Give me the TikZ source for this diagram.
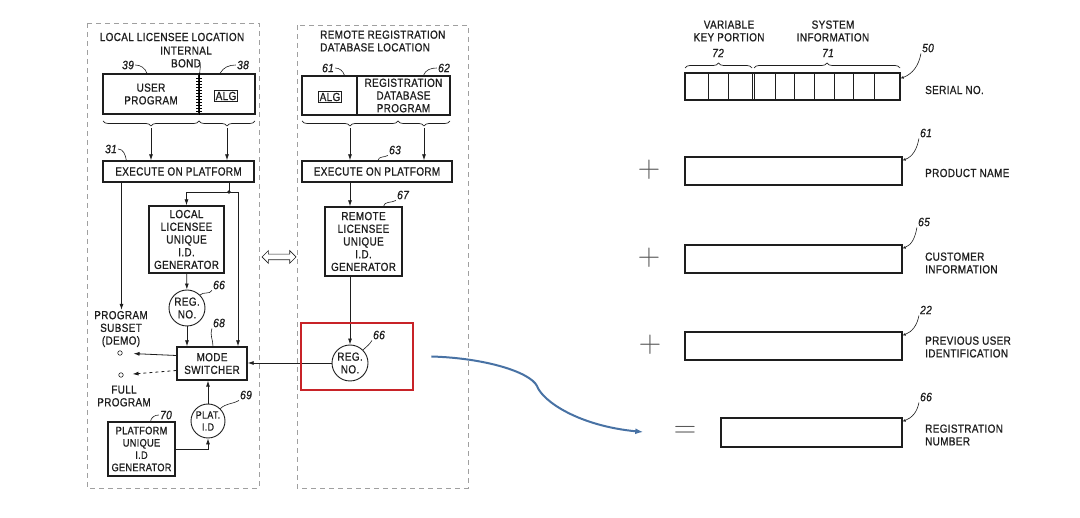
\documentclass[tikz,border=0pt]{standalone}
\usepackage{fontspec}
\setmainfont{Liberation Sans}[FakeStretch=0.85, FakeBold=0.9, LetterSpace=3]
\usetikzlibrary{arrows.meta,decorations.pathreplacing,shapes.arrows}
\definecolor{ink}{RGB}{30,30,30}
\definecolor{zonegray}{RGB}{160,160,160}
\definecolor{markred}{RGB}{200,35,40}
\definecolor{curveblue}{RGB}{72,114,164}
\tikzset{
    blk/.style={draw=ink, line width=1.3pt, align=center, inner sep=0pt},
    regcirc/.style={draw=ink, circle, line width=0.9pt, inner sep=0pt, align=center, minimum size=36pt},
    refnum/.style={font=\fontsize{12}{13}\selectfont\itshape, inner sep=1pt},
    leader/.style={draw=ink, line width=0.6pt},
    zone/.style={draw=zonegray, dash pattern=on 5pt off 4pt, line width=0.8pt},
    flow/.style={draw=ink, line width=0.8pt, -{Latex[length=6pt,width=4pt]}},
    fieldbox/.style={draw=ink, line width=1.3pt, minimum height=28pt},
    sign/.style={text=black!65, font=\fontsize{24.88}{25}\selectfont},
    brc/.style={draw=ink, line width=0.7pt, decorate, decoration={brace, amplitude=5pt}},
    brcdown/.style={brc, decoration={brace, mirror, amplitude=5pt}}
}
\begin{document}
\begin{tikzpicture}[x=1pt, y=-1pt, font=\fontsize{11.7}{12.7}\selectfont, text=ink]
        \useasboundingbox (0,0) rectangle (1080,518);

        \draw[zone] (87,23) rectangle (259,488);
        \draw[zone] (297,25) rectangle (468,488);

        \node (loctitle) at (172,37) {LOCAL LICENSEE LOCATION};
        \node[align=center, inner sep=1pt] (bond) at (186,57) {INTERNAL\\BOND};
        \node[blk, minimum width=96pt, minimum height=40pt] (userprog) at (151,94) {USER\\PROGRAM};
        \node[blk, minimum width=56pt, minimum height=40pt] (algpart) at (227,94) {};
        \node[draw=ink, line width=0.8pt, inner sep=1.5pt] (alg1) at (226,96) {ALG};
        \draw[line width=1.3pt] (userprog.north east) -- (userprog.south east);
        \draw[line width=0.6pt] foreach \y in {78,81,...,111} {(196,\y) -- (202,\y)};
        \node[refnum] (n39) at (128,65) {39};
        \node[refnum] (n38) at (243,65) {38};
        \draw[leader] (n39.east) to[out=0, in=110] ([xshift=-4pt]userprog.north);
        \draw[leader] (n38.west) to[out=180, in=60] ([xshift=-7pt]algpart.north);
        \draw[leader] ([xshift=12pt,yshift=-6pt]bond.center) to[out=0, in=90] (userprog.north east);

        \draw[brcdown] (103,121) -- (199,121) coordinate[midway, yshift=-7pt] (brc1);
        \draw[brcdown] (199,121) -- (255,121) coordinate[midway, yshift=-7pt] (brc2);

        \node[blk, minimum width=151pt, minimum height=21pt] (exec1) at (178.5,171.5) {EXECUTE ON PLATFORM};
        \node[refnum] (n31) at (111,149) {31};
        \draw[leader] (n31.east) to[out=0, in=100] ([xshift=24pt]exec1.north west);
        \draw[flow] (brc1) -- (exec1.north -| brc1);
        \draw[flow] (brc2) -- (exec1.north -| brc2);

        \node[align=center, inner sep=1pt] (progsub) at (121,329) {PROGRAM\\SUBSET\\(DEMO)};
        \draw[flow] ([xshift=-57pt]exec1.south) -- ([xshift=-57pt]exec1.south |- progsub.north);

        \coordinate (jn) at (229,192);
        \fill[ink] (jn) circle (1.8pt);
        \node[blk, minimum width=75pt, minimum height=67pt] (lgen) at (186.5,239.5) {LOCAL\\LICENSEE\\UNIQUE\\I.D.\\GENERATOR};
        \node[regcirc] (reg1) at (187,308) {REG.\\NO.};
        \node[refnum] (n66a) at (219,285) {66};
        \draw[leader] (n66a.south west) to[out=-120, in=45] (reg1.45);
        \node[blk, minimum width=70pt, minimum height=33pt] (modesw) at (212,363.5) {MODE\\SWITCHER};
        \node[refnum] (n68) at (219,323) {68};
        \draw[leader] (n68.south west) to[out=-110, in=90] ([xshift=1pt]modesw.north);

        \draw[ink, line width=0.8pt] (exec1.south -| jn) -- (jn);
        \draw[flow] (jn) -| (lgen.north);
        \draw[flow] (jn) -| ([xshift=26pt]modesw.north);
        \draw[flow] (lgen) -- (reg1);
        \draw[flow] (reg1) -- (reg1 |- modesw.north);

        \node[draw=ink, circle, inner sep=0pt, minimum size=4.5pt, line width=0.6pt] (demo) at (120,353) {};
        \node[draw=ink, circle, inner sep=0pt, minimum size=4.5pt, line width=0.6pt] (full) at (121,375) {};
        \node[align=center, inner sep=1pt] (fullprog) at (124,396) {FULL\\PROGRAM};
        \draw[flow, shorten >=11pt] ([yshift=8pt]modesw.west) -- (demo);
        \draw[flow, dashed, shorten >=9pt] ([yshift=-7pt]modesw.west) -- (full);

        \node[regcirc, minimum size=34pt, font=\fontsize{10.5}{12}\selectfont] (plat) at (208,421) {PLAT.\\I.D};
        \node[refnum] (n69) at (246,395) {69};
        \draw[leader] (n69.south west) to[out=-150, in=45] (plat.45);
        \draw[flow] (plat) -- (plat |- modesw.south);
        \node[blk, minimum width=67pt, minimum height=54pt, font=\fontsize{10.8}{12.3}\selectfont] (pgen) at (141.5,449) {PLATFORM\\UNIQUE\\I.D\\GENERATOR};
        \node[refnum] (n70) at (166,415) {70};
        \draw[leader] (n70.west) to[out=180, in=80] ([xshift=9pt]pgen.north);
        \draw[flow] (pgen.east) -| (plat.south);

        \node[draw=ink, double arrow, double arrow head extend=3.5pt, minimum height=34pt, inner sep=2.5pt, line width=0.7pt] (link) at (279,257) {};

        \node[anchor=west, align=left, inner sep=0pt] (remtitle) at (320,41) {REMOTE REGISTRATION\\DATABASE LOCATION};
        \node[blk, minimum width=55pt, minimum height=39pt] (alg2part) at (329.5,95.5) {};
        \node[blk, minimum width=93pt, minimum height=39pt] (regprog) at (403.5,95.5) {REGISTRATION\\DATABASE\\PROGRAM};
        \node[draw=ink, line width=0.8pt, inner sep=1.5pt] (alg2) at (330,97) {ALG};
        \node[refnum] (n61) at (328,68) {61};
        \node[refnum] (n62) at (444,68) {62};
        \draw[leader] (n61.east) to[out=0, in=110] ([xshift=15pt]alg2part.north);
        \draw[leader] (n62.west) to[out=180, in=70] ([xshift=20pt]regprog.north);

        \draw[brcdown] (302,121) -- (398,121) coordinate[midway, yshift=-7pt] (brc3);
        \draw[brcdown] (398,121) -- (450,121) coordinate[midway, yshift=-7pt] (brc4);

        \node[blk, minimum width=150pt, minimum height=21pt] (exec2) at (377,171.5) {EXECUTE ON PLATFORM};
        \node[refnum] (n63) at (395,150) {63};
        \draw[leader] (n63.south west) to[out=-150, in=80] ([xshift=1pt]exec2.north);
        \draw[flow] (brc3) -- (exec2.north -| brc3);
        \draw[flow] (brc4) -- (exec2.north -| brc4);

        \node[blk, minimum width=77pt, minimum height=69pt] (rgen) at (363.5,241.5) {REMOTE\\LICENSEE\\UNIQUE\\I.D.\\GENERATOR};
        \node[refnum] (n67) at (403,195) {67};
        \draw[leader] (n67.south west) to[out=-150, in=80] ([xshift=20pt]rgen.north);
        \node[regcirc] (reg2) at (350,363) {REG.\\NO.};
        \node[refnum] (n66b) at (379,335) {66};
        \draw[leader] (n66b.south west) to[out=-120, in=45] (reg2.45);
        \draw[flow] (exec2.south -| reg2) -- (rgen.north -| reg2);
        \draw[flow] (rgen.south -| reg2) -- (reg2);
        \draw[flow] (reg2) -- (reg2 -| modesw.east);
        \node[draw=markred, line width=2.6pt, minimum width=112pt, minimum height=67pt] (hilite) at (357,356.5) {};

        \node[draw=ink, line width=1.3pt, minimum width=215pt, minimum height=27pt] (serial) at (792.5,86.5) {};
        \draw[ink, line width=0.8pt] foreach \x in {708,728,752,754,775,794,814,834,853,874} {(\x,73) -- (\x,100)};
        \draw[brc] (685,68) -- (752,68);
        \draw[brc] (754,68) -- (900,68);
        \node[refnum] (n72) at (718,53) {72};
        \node[refnum] (n71) at (828,53) {71};
        \node[align=center, inner sep=1pt] (varkey) at (729,31) {VARIABLE\\KEY PORTION};
        \node[align=center, inner sep=1pt] (sysinfo) at (833,31) {SYSTEM\\INFORMATION};
        \node[refnum] (n50) at (928,48) {50};
        \draw[leader, -{Latex[length=3pt,width=3pt]}] (n50.south west) to[out=-100, in=20] ([yshift=-6pt]serial.north east);
        \node[anchor=west, inner sep=0pt] (seriallbl) at (925,90) {SERIAL NO.};

        \node[fieldbox, minimum width=217pt] (prodbox) at (793.5,171) {};
        \node[fieldbox, minimum width=217pt] (custbox) at (793.5,259) {};
        \node[fieldbox, minimum width=217pt] (prevbox) at (793.5,346) {};
        \node[fieldbox, minimum width=181pt, minimum height=29pt] (regnbox) at (811.5,432.5) {};
        \node[sign] (plus1) at (649,170) {\scalebox{1.25}{$+$}};
        \node[sign] (plus2) at (649,258) {\scalebox{1.25}{$+$}};
        \node[sign] (plus3) at (650,345) {\scalebox{1.25}{$+$}};
        \node[sign] (eqsign) at (685,432) {\scalebox{1.25}{$=$}};

        \node[refnum] (n61r) at (926,133) {61};
        \node[refnum] (n65r) at (924,222) {65};
        \node[refnum] (n22r) at (926,310) {22};
        \node[refnum] (n66r) at (926,397) {66};
        \draw[leader, -{Latex[length=3pt,width=3pt]}] (n61r.south west) to[out=-100, in=20] ([yshift=-4pt]prodbox.north east);
        \draw[leader, -{Latex[length=3pt,width=3pt]}] (n65r.south west) to[out=-100, in=20] ([yshift=-4pt]custbox.north east);
        \draw[leader, -{Latex[length=3pt,width=3pt]}] (n22r.south west) to[out=-100, in=20] ([yshift=-4pt]prevbox.north east);
        \draw[leader, -{Latex[length=3pt,width=3pt]}] (n66r.south west) to[out=-100, in=20] ([yshift=-4pt]regnbox.north east);
        \node[anchor=west, inner sep=0pt] (prodlbl) at (925,173) {PRODUCT NAME};
        \node[anchor=west, align=left, inner sep=0pt] (custlbl) at (925,263) {CUSTOMER\\INFORMATION};
        \node[anchor=west, align=left, inner sep=0pt] (prevlbl) at (925,347) {PREVIOUS USER\\IDENTIFICATION};
        \node[anchor=west, align=left, inner sep=0pt] (regnlbl) at (925,435) {REGISTRATION\\NUMBER};

        \draw[curveblue, line width=2pt, -{Latex[length=8pt,width=6pt]}] ([xshift=17pt]hilite.east) .. controls (485,358) and (530,372) .. (537,386) .. controls (543,402) and (580,426) .. ([xshift=-27pt]eqsign.west);
\end{tikzpicture}
\end{document}
